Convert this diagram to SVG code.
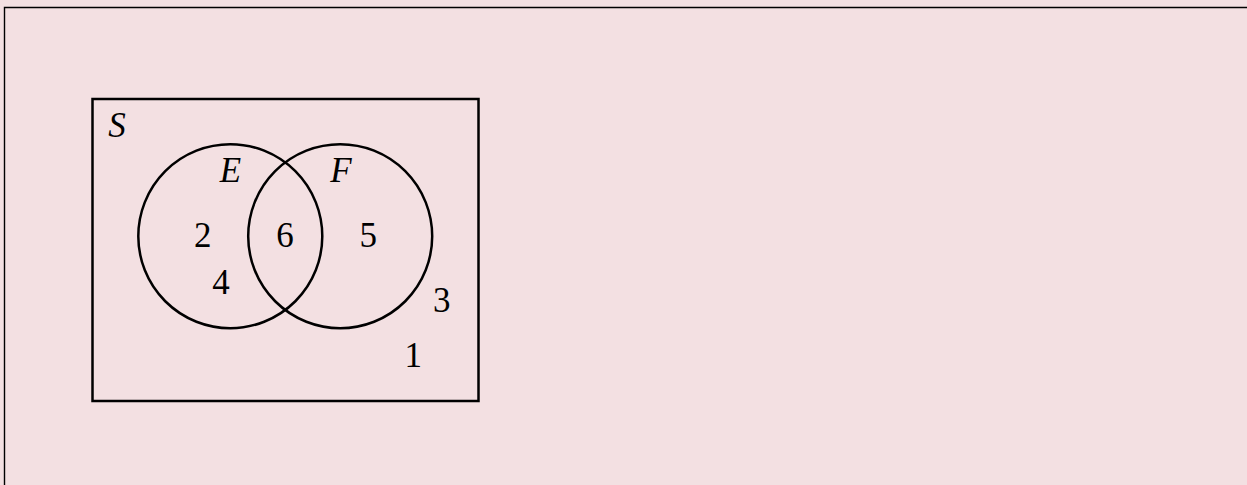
<svg xmlns="http://www.w3.org/2000/svg" width="1247" height="485" viewBox="0 0 1247 485">
<style>
.ln{fill:none;stroke:#000;stroke-width:2.5}
.t{font-family:"Liberation Serif",serif;font-size:35px;fill:#000;text-anchor:middle}
.i{font-style:italic}
</style>
<rect x="0" y="0" width="1247" height="485" fill="#f3e0e2"/>
<g id="frame">
<path d="M4.5,485 V7.5 H1247" fill="none" stroke="#000" stroke-width="1.4"/>
</g>
<g id="S">
<rect class="ln" x="92.5" y="99" width="386" height="302"/>
<text class="t i" x="117" y="136.5">S</text>
</g>
<g id="E">
<circle class="ln" cx="230.3" cy="236.2" r="92"/>
<text class="t i" x="230.5" y="181.5">E</text>
</g>
<g id="F">
<circle class="ln" cx="340.2" cy="236.2" r="92"/>
<text class="t i" x="341" y="181.5">F</text>
</g>
<g id="connectors"></g>
<g id="labels">
<text class="t" x="202.7" y="247.3">2</text>
<text class="t" x="285" y="247.3">6</text>
<text class="t" x="368.3" y="247.3">5</text>
<text class="t" x="221" y="294">4</text>
<text class="t" x="441.7" y="311.7">3</text>
<text class="t" x="413.3" y="366.7">1</text>
</g>
</svg>
